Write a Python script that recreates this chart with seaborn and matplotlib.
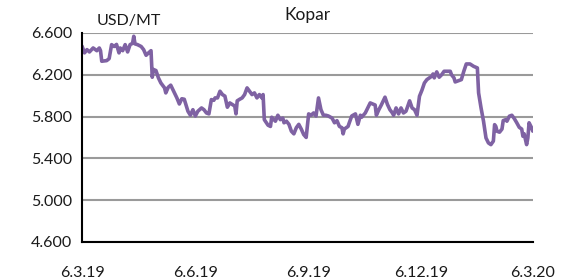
import pandas as pd
import numpy as np
import seaborn as sns
import matplotlib.pyplot as plt
import matplotlib.dates as mdates

# Copper price (USD/MT), days counted from 6.3.2019
start = pd.Timestamp("2019-03-06")
days = [0, 2, 4, 6, 9, 12, 14, 15, 16, 20, 22, 24, 26, 28, 30, 31, 33, 35, 37, 39,
        41, 42, 43, 45, 48, 50, 52, 54, 56, 57, 58, 60, 62, 64, 67, 68, 70, 72, 75, 77,
        79, 81, 83, 86, 88, 90, 92, 94, 97, 99, 101, 103, 105, 107, 108, 110, 112, 114, 116, 118,
        120, 122, 124, 125, 126, 128, 130, 132, 134, 136, 138, 140, 142, 144, 146, 147, 148, 151, 153, 154,
        157, 159, 161, 163, 164, 166, 168, 170, 172, 174, 176, 178, 180, 182, 184, 186, 188, 190, 192, 194,
        196, 198, 200, 203, 205, 207, 209, 211, 212, 213, 216, 217, 219, 222, 224, 226, 227, 230, 232, 234,
        236, 238, 239, 241, 243, 246, 248, 250, 252, 253, 255, 257, 259, 261, 263, 264, 266, 268, 270, 272,
        274, 276, 278, 280, 282, 284, 285, 286, 288, 290, 292, 294, 296, 299, 300, 302, 303, 305, 308, 310,
        312, 315, 318, 321, 322, 324, 326, 328, 330, 332, 334, 335, 336, 337, 339, 341, 342, 344, 345, 347,
        349, 351, 353, 355, 357, 358, 359, 361, 362, 363, 365, 366]
price = [6473, 6409, 6440, 6418, 6456, 6430, 6456, 6430, 6329, 6335, 6354, 6488, 6470, 6490, 6409, 6456, 6430, 6488, 6418, 6488,
         6500, 6568, 6495, 6488, 6470, 6440, 6386, 6409, 6430, 6176, 6250, 6240, 6170, 6121, 6074, 6026, 6080, 6100, 6026, 5978,
         5920, 5970, 5965, 5850, 5812, 5865, 5805, 5850, 5882, 5865, 5834, 5825, 5962, 5955, 5978, 5978, 6042, 6010, 5995, 5889,
         5930, 5915, 5900, 5825, 5950, 5965, 5978, 6010, 6074, 6042, 6010, 6026, 5978, 6010, 5978, 6010, 5770, 5717, 5705, 5793,
         5755, 5812, 5770, 5785, 5740, 5755, 5725, 5659, 5634, 5693, 5725, 5680, 5627, 5600, 5825, 5812, 5834, 5805, 5978, 5865,
         5812, 5812, 5805, 5785, 5740, 5760, 5705, 5693, 5634, 5680, 5705, 5740, 5805, 5825, 5725, 5812, 5793, 5834, 5882, 5930,
         5920, 5910, 5812, 5865, 5910, 5985, 5915, 5865, 5834, 5812, 5882, 5825, 5882, 5834, 5850, 5882, 5950, 5882, 5865, 5812,
         5994, 6052, 6121, 6153, 6170, 6186, 6207, 6170, 6227, 6176, 6200, 6233, 6233, 6233, 6200, 6170, 6131, 6140, 6153, 6233,
         6303, 6303, 6280, 6265, 6026, 5882, 5755, 5595, 5547, 5531, 5565, 5722, 5705, 5659, 5650, 5680, 5761, 5770, 5755, 5803,
         5812, 5780, 5740, 5697, 5680, 5611, 5634, 5531, 5595, 5740, 5693, 5660]

tick_dates = ["2019-03-06", "2019-06-06", "2019-09-06", "2019-12-06", "2020-03-06"]
tick_labels = ["6.3.19", "6.6.19", "6.9.19", "6.12.19", "6.3.20"]
y_ticks = [4600, 5000, 5400, 5800, 6200, 6600]
y_labels = ["4.600", "5.000", "5.400", "5.800", "6.200", "6.600"]

df = pd.DataFrame({"date": start + pd.to_timedelta(days, unit="D"), "price": price})

sns.set_style("white")
plt.rcParams["font.family"] = ["Lato", "DejaVu Sans"]

fig = plt.figure(figsize=(5.62, 2.79), dpi=100)
ax = fig.add_axes([0.146, 0.133, 0.802, 0.749])

sns.lineplot(data=df, x="date", y="price", color="#7f62a3", linewidth=2.6, ax=ax)

ax.set_ylim(4600, 6600)
ax.set_xlim(pd.Timestamp(tick_dates[0]), pd.Timestamp(tick_dates[-1]))
ax.set_yticks(y_ticks)
ax.set_yticklabels(y_labels)
ax.set_xticks(pd.to_datetime(tick_dates))
ax.set_xticklabels(tick_labels)
ax.yaxis.grid(True, color="#9a9a9a", linewidth=1.5)
ax.set_axisbelow(True)

for s in ["top", "right"]:
    ax.spines[s].set_visible(False)
for s in ["left", "bottom"]:
    ax.spines[s].set_color("black")
    ax.spines[s].set_linewidth(1.5)

ax.tick_params(axis="both", labelsize=11.5, colors="black", length=5, width=1.5, direction="out")
ax.tick_params(axis="x", pad=12)
ax.tick_params(axis="y", length=4, pad=3)
for lbl in ax.get_xticklabels() + ax.get_yticklabels():
    lbl.set_color("#1a1a1a")
ax.set_xlabel("")
ax.set_ylabel("")

fig.text(0.547, 0.945, "Kopar", ha="center", va="center", fontsize=12.5, color="#1a1a1a")
fig.text(0.172, 0.925, "USD/MT", ha="left", va="center", fontsize=11.5, color="#1a1a1a")

fig.savefig("out.png", dpi=100)
